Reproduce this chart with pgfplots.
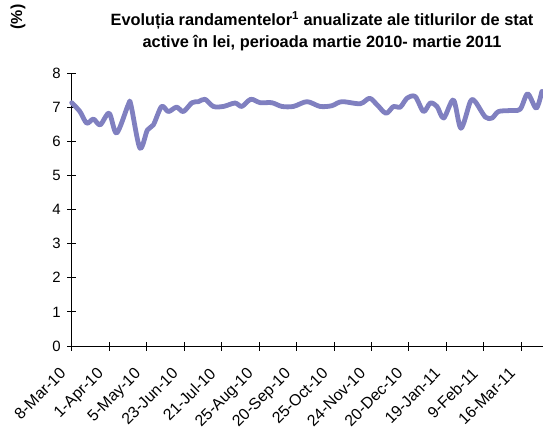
\documentclass[border=0pt]{standalone}
\usepackage{fontspec}
\setmainfont{Liberation Sans}
\usepackage{pgfplots}
\pgfplotsset{compat=1.18}
\definecolor{serie}{RGB}{128,128,192}
\begin{document}
\begin{tikzpicture}
\begin{axis}[
  at={(0,0)}, anchor=south west,
  scale only axis, width=471.3bp, height=273bp,
  xmin=0, xmax=12.58, ymin=0, ymax=8,
  axis x line=bottom, axis y line=left,
  axis line style={-, black, line width=0.8bp},
  xtick={0,...,12},
  xticklabels={8-Mar-10,1-Apr-10,5-May-10,23-Jun-10,21-Jul-10,25-Aug-10,20-Sep-10,25-Oct-10,24-Nov-10,20-Dec-10,19-Jan-11,9-Feb-11,16-Mar-11},
  ytick={0,...,8},
  tick align=center, major tick length=9bp,
  tick style={black, line width=0.8bp},
  xticklabel style={xshift=-13bp, yshift=-16bp, rotate=45, anchor=north east, font=\fontsize{16}{16}\selectfont, inner sep=0pt},
  yticklabel style={xshift=-3bp, font=\fontsize{15}{15}\selectfont},
  /pgf/number format/assume math mode=true,
  clip=false,
]
\addplot[serie, line width=4.8bp, smooth, tension=0.5, line join=round, line cap=round] coordinates {
(0.00,7.13) (0.22,6.87) (0.40,6.53) (0.58,6.65) (0.76,6.48) (1.00,6.82) (1.20,6.24)
(1.51,7.07) (1.58,7.07) (1.82,5.80) (2.02,6.33) (2.18,6.48) (2.40,7.02) (2.58,6.87)
(2.80,7.00) (2.98,6.87) (3.21,7.13) (3.38,7.16) (3.56,7.23) (3.78,7.02) (4.05,7.02)
(4.36,7.12) (4.54,7.02) (4.78,7.23) (5.03,7.13) (5.34,7.13) (5.61,7.02) (5.92,7.02)
(6.28,7.16) (6.63,7.02) (6.94,7.04) (7.21,7.16) (7.70,7.10) (7.95,7.26) (8.15,7.07)
(8.39,6.82) (8.59,7.02) (8.77,7.00) (8.95,7.26) (9.17,7.31) (9.39,6.87) (9.57,7.12)
(9.75,7.02) (9.93,6.68) (10.19,7.21) (10.39,6.38) (10.64,7.16) (10.77,7.16) (11.04,6.71)
(11.22,6.68) (11.39,6.87) (11.70,6.90) (11.97,6.94) (12.17,7.39) (12.40,6.97) (12.55,7.46)
};
\end{axis}
\node[anchor=base, font=\bfseries\fontsize{16.4}{16.4}\selectfont, inner sep=0pt] at (250.3bp,320bp) {Evoluția randamentelor\textsuperscript{1} anualizate ale titlurilor de stat};
\node[anchor=base, font=\bfseries\fontsize{16.4}{16.4}\selectfont, inner sep=0pt] at (250.3bp,298bp) {active în lei, perioada martie 2010- martie 2011};
\node[rotate=90, font=\bfseries\fontsize{16}{16}\selectfont, inner sep=0pt] at (-53.7bp,329bp) {(\%)};
\pgfresetboundingbox
\path[use as bounding box] (-71.7bp,-81bp) rectangle (471.3bp,346bp);
\end{tikzpicture}
\end{document}
